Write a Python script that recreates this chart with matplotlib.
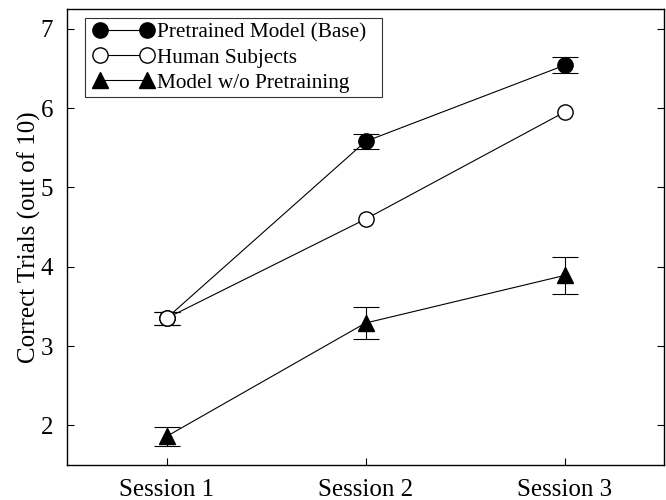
import matplotlib
matplotlib.use("Agg")
import numpy as np
import matplotlib.pyplot as plt
from matplotlib.lines import Line2D
from matplotlib.legend_handler import HandlerLine2D

sessions = ["Session 1", "Session 2", "Session 3"]
x = [1, 2, 3]

pretrained = [3.35, 5.58, 6.54]
pretrained_err = [0.08, 0.10, 0.10]
human = [3.35, 4.60, 5.95]
human_err = [0.08, 0.0, 0.0]
no_pretrain = [1.86, 3.29, 3.89]
no_pretrain_err = [0.12, 0.20, 0.23]

plt.rcParams["font.family"] = ["Liberation Serif", "DejaVu Serif"]

fig = plt.figure(figsize=(6.66, 5.0), dpi=100)
ax = fig.add_axes([67 / 666, 1 - 465 / 500, (664 - 67) / 666, (465 - 9) / 500])

lw = 0.8
ms = 11
common = dict(color="black", linewidth=lw, elinewidth=lw, capsize=9.5,
              capthick=lw, markersize=ms)


def draw(vals, err, **kw):
    # skip error bars where the spread is zero
    mask = list(np.asarray(err) > 0)
    ax.errorbar(x, vals, yerr=err, errorevery=mask, **kw, **common)


draw(pretrained, pretrained_err, marker="o",
     markerfacecolor="black", markeredgecolor="black")
draw(human, human_err, marker="o",
     markerfacecolor="white", markeredgecolor="black")
draw(no_pretrain, no_pretrain_err, marker="^",
     markerfacecolor="black", markeredgecolor="black")

ax.set_xlim(0.5, 3.5)
ax.set_ylim(1.5, 7.25)
ax.set_xticks(x)
ax.set_xticklabels(sessions)
ax.set_yticks([2, 3, 4, 5, 6, 7])
ax.tick_params(axis="both", direction="in", length=5, width=0.8, labelsize=18)
ax.tick_params(axis="y", right=True, pad=10)
ax.tick_params(axis="x", pad=10)
ax.set_ylabel("Correct Trials (out of 10)", fontsize=18, labelpad=0)
for s in ax.spines.values():
    s.set_linewidth(1.0)

labels = ["Pretrained Model (Base)", "Human Subjects", "Model w/o Pretraining"]
handles = [
    Line2D([], [], color="black", lw=lw, marker="o", ms=ms,
           mfc="black", mec="black"),
    Line2D([], [], color="black", lw=lw, marker="o", ms=ms,
           mfc="white", mec="black"),
    Line2D([], [], color="black", lw=lw, marker="^", ms=ms,
           mfc="black", mec="black"),
]
leg = ax.legend(handles, labels, loc="upper left",
                bbox_to_anchor=(0.030, 0.52, 0.4975, 0.4596),
                mode="expand", fontsize=15.3,
                frameon=True, fancybox=False, edgecolor="black",
                numpoints=2, handlelength=3.2, handletextpad=0.0,
                borderpad=0.2, labelspacing=0.25, borderaxespad=0.0,
                handler_map={Line2D: HandlerLine2D(marker_pad=0.5, numpoints=2)})
leg.get_frame().set_linewidth(0.8)

fig.savefig("out.png", dpi=100)
